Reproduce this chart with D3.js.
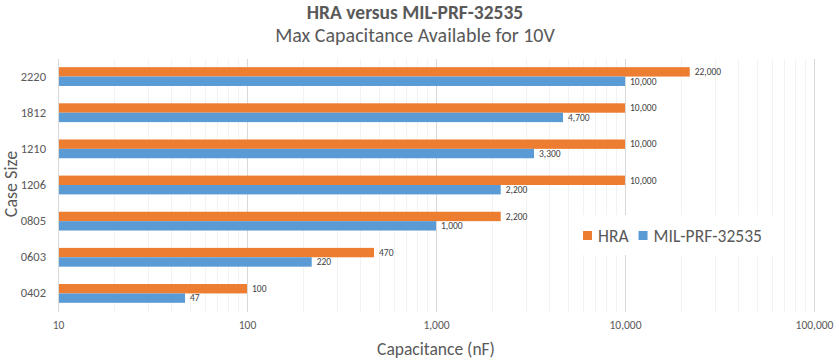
<!DOCTYPE html>
<html><head><meta charset="utf-8">
<script src="https://cdn.jsdelivr.net/npm/d3@7"></script>
<style>body{margin:0;background:#fff}svg{display:block}text{font-family:Carlito,Lato,"Open Sans",sans-serif}</style>
</head><body><svg id="c" width="839" height="360"></svg>
<script>
const categories = ["0402","0603","0805","1206","1210","1812","2220"];
const seriesNames = ["HRA","MIL-PRF-32535"];
const hraValues = [100,470,2200,10000,10000,10000,22000];
const milValues = [47,220,1000,2200,3300,4700,10000];
const xTicks = [10,100,1000,10000,100000];
const colors = ["#ED7D31","#5B9BD5"];

const svg = d3.select("#c");
const L=58, R=814, T=58.5, B=311.5;
const x = d3.scaleLog().domain([10,100000]).range([L,R]);
const y = d3.scaleBand().domain(categories.slice().reverse()).range([T,B]).paddingInner(0.48).paddingOuter(0.24);
const ys = d3.scaleBand().domain(seriesNames).range([0,y.bandwidth()]);

// minor gridlines
const minor=[];
for(let d=10; d<100000; d*=10) for(let k=2;k<10;k++) minor.push(d*k);
svg.append("g").selectAll("line").data(minor).join("line")
 .attr("x1",d=>x(d)).attr("x2",d=>x(d)).attr("y1",T).attr("y2",B)
 .attr("stroke","#f2f2f2").attr("stroke-width",1).attr("shape-rendering","crispEdges");
svg.append("g").selectAll("line").data(xTicks).join("line")
 .attr("x1",d=>x(d)).attr("x2",d=>x(d)).attr("y1",T).attr("y2",B)
 .attr("stroke","#d9d9d9").attr("stroke-width",1).attr("shape-rendering","crispEdges");

// bars
const rows = categories.map((c,i)=>({c, vals:[hraValues[i], milValues[i]]}));
const g = svg.append("g");
rows.forEach(r=>{
  r.vals.forEach((v,j)=>{
    const yy = y(r.c)+ys(seriesNames[j]);
    g.append("rect").attr("x",x(10)).attr("y",yy).attr("width",x(v)-x(10)).attr("height",ys.bandwidth())
     .attr("fill",colors[j]);
    g.append("text").attr("x",x(v)+5).attr("y",yy+ys.bandwidth()/2).attr("dy","0.35em")
     .attr("font-size",9.5).attr("fill","#404040").text(d3.format(",")(v));
  });
});

// x axis labels
const xa = d3.axisBottom(x).tickValues(xTicks).tickFormat(d3.format(",")).tickSize(0).tickPadding(0);
const xg = svg.append("g").attr("transform",`translate(0,${B+9})`).call(xa);
xg.select(".domain").remove();
xg.selectAll("text").attr("font-size",11.5).attr("fill","#595959").attr("font-family","Carlito,Lato,sans-serif");

// y axis
const ya = d3.axisLeft(y).tickSize(0).tickPadding(12);
const yg = svg.append("g").attr("transform",`translate(${L},0)`).call(ya);
yg.select(".domain").attr("stroke","#d9d9d9");
yg.selectAll("text").attr("font-size",12.5).attr("fill","#595959").attr("font-family","Carlito,Lato,sans-serif");

// titles
svg.append("text").attr("x",415).attr("y",19).attr("text-anchor","middle").attr("font-size",19.5).attr("font-weight","bold").attr("fill","#595959").text("HRA versus MIL-PRF-32535");
svg.append("text").attr("x",415).attr("y",42).attr("text-anchor","middle").attr("font-size",20).attr("fill","#595959").text("Max Capacitance Available for 10V");
svg.append("text").attr("x",436).attr("y",355).attr("text-anchor","middle").attr("font-size",17.5).attr("fill","#595959").text("Capacitance (nF)");
svg.append("text").attr("transform","translate(17,184) rotate(-90)").attr("text-anchor","middle").attr("font-size",18).attr("fill","#595959").text("Case Size");

// legend
const lg = svg.append("g");
lg.append("rect").attr("x",577).attr("y",215).attr("width",196).attr("height",40).attr("fill","#fff");
let lx = 583;
seriesNames.forEach((n,j)=>{
  lg.append("rect").attr("x",lx).attr("y",231).attr("width",9).attr("height",9).attr("fill",colors[j]);
  const t = lg.append("text").attr("x",lx+15).attr("y",242).attr("font-size",17.5).attr("fill","#595959").text(n);
  lx += 15 + t.node().getComputedTextLength() + 10;
});
</script></body></html>
